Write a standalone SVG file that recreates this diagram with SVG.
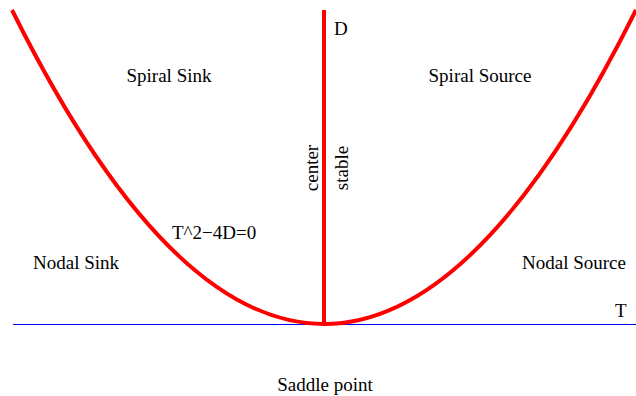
<svg xmlns="http://www.w3.org/2000/svg" width="636" height="396" viewBox="0 0 636 396">
<style>
text { font-family: "Liberation Serif", "Times New Roman", serif; font-size: 19px; fill: #000; }
.curve { fill: none; stroke: #ff0000; stroke-width: 4; }
.axis { fill: none; stroke: #0000ff; stroke-width: 1; }
</style>
<rect width="636" height="396" fill="#fff"/>
<g id="connectors">
<line class="axis" x1="13" y1="324.5" x2="636" y2="324.5"/>
<path class="curve" d="M12,10 Q324,638 636,10"/>
<line class="curve" x1="324" y1="10" x2="324" y2="324"/>
</g>
<g id="labels">
<text x="334" y="35">D</text>
<text x="615" y="317">T</text>
<text x="169" y="82" text-anchor="middle">Spiral Sink</text>
<text x="480" y="82" text-anchor="middle">Spiral Source</text>
<text x="76" y="269" text-anchor="middle">Nodal Sink</text>
<text x="574" y="269" text-anchor="middle">Nodal Source</text>
<text x="325" y="391" text-anchor="middle">Saddle point</text>
<text x="172" y="239">T^2−4D=0</text>
<text transform="translate(318,168) rotate(-90)" text-anchor="middle">center</text>
<text transform="translate(348,168) rotate(-90)" text-anchor="middle">stable</text>
</g>
</svg>
